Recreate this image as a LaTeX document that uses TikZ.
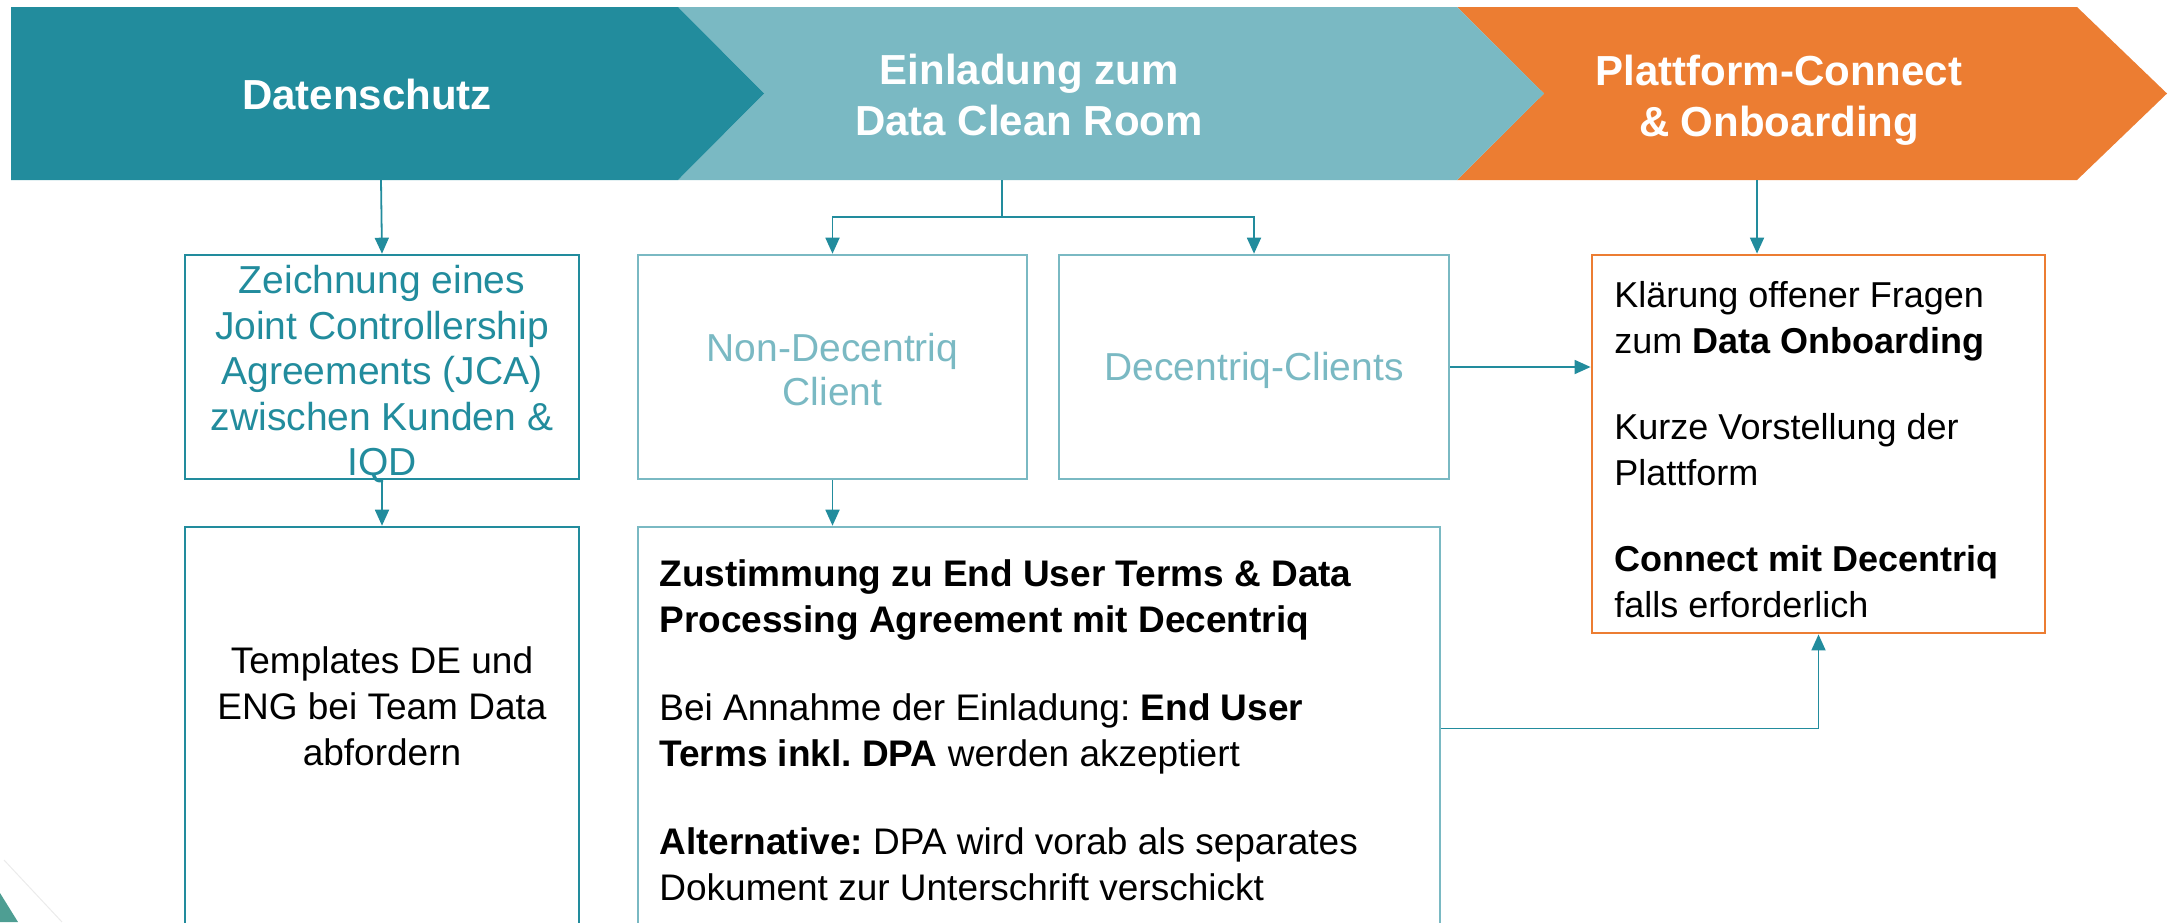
\documentclass[tikz,border=0pt]{standalone}
\usepackage{fontspec}
\setmainfont{Liberation Sans}
\usetikzlibrary{arrows.meta}
\definecolor{dteal}{HTML}{228C9D}
\definecolor{lteal}{HTML}{7AB9C3}
\definecolor{orng}{HTML}{EC7D32}
\definecolor{cornerteal}{HTML}{4E9E93}
\frenchspacing
\tikzset{
  hdr/.style={text=white, font=\fontsize{21pt}{25.5pt}\selectfont\bfseries, align=center, inner sep=0pt},
  boxlight/.style={draw=lteal, line width=1.3pt, inner sep=0pt},
  boxorange/.style={draw=orng, line width=1.4pt, inner sep=0pt},
  conn/.style={draw=dteal, line width=0.9pt},
  arr/.style={conn, -{Triangle[length=8pt,width=7pt]}},
  txt/.style={inner sep=0pt}
}
\begin{document}
\begin{tikzpicture}[x=0.5pt,y=-0.5pt]
\path[use as bounding box] (0,0) rectangle (2171,922);
\clip (0,0) rectangle (2171,922);

% banner chevrons
\fill[orng] (1457,7) -- (2077,7) -- (2167,93.5) -- (2077,180) -- (1457,180) -- (1544,93.5) -- cycle;
\fill[lteal] (678,7) -- (1457,7) -- (1544,93.5) -- (1457,180) -- (678,180) -- (764,93.5) -- cycle;
\fill[dteal] (11,7) -- (678,7) -- (764,93.5) -- (678,180) -- (11,180) -- cycle;

\node[hdr] (h1) at (367,94) {Datenschutz};
\node[hdr] (h2) at (1029,94.5) {Einladung zum\\Data Clean Room};
\node[hdr] (h3) at (1779,100) {Plattform-Connect\\\& Onboarding};

\coordinate (c1b) at (381,180);
\coordinate (c2b) at (1002,180);
\coordinate (c3b) at (1757,180);
\coordinate (split) at (1002,217);

% boxes
\node[draw=dteal, line width=1.3pt, inner sep=0pt, minimum width=197pt, minimum height=112pt] (A) at (382,367) {};
\node[draw=dteal, line width=1.3pt, inner sep=0pt, minimum width=197pt, minimum height=201.5pt] (B) at (382,728.5) {};
\node[boxlight, minimum width=194.5pt, minimum height=112pt] (C) at (832.5,367) {};
\node[boxlight, minimum width=195pt, minimum height=112pt] (D) at (1254,367) {};
\node[boxlight, minimum width=401pt, minimum height=201.5pt] (E) at (1039,728.5) {};
\node[boxorange, minimum width=226.5pt, minimum height=189pt] (F) at (1818.5,444) {};

% texts
\node[txt, text=dteal, align=center, font=\fontsize{19.5pt}{22.75pt}\selectfont] (tA) at (382,374.5)
  {Zeichnung eines\\Joint Controllership\\Agreements (JCA)\\zwischen Kunden \&\\IQD};
\node[txt, align=center, font=\fontsize{18.5pt}{23pt}\selectfont] (tB) at (382,706)
  {Templates DE und\\ENG bei Team Data\\abfordern};
\node[txt, text=lteal, align=center, font=\fontsize{19.5pt}{22pt}\selectfont] (tC) at (832.5,370)
  {Non-Decentriq\\Client};
\node[txt, text=lteal, align=center, font=\fontsize{19.5pt}{22pt}\selectfont] (tD) at (1254,370)
  {Decentriq-Clients};
\node[txt, anchor=west, align=left, font=\fontsize{18.5pt}{23pt}\selectfont] (tE) at (659,730)
  {\textbf{Zustimmung zu End User Terms \& Data}\\
   \textbf{Processing Agreement mit Decentriq}\\[21pt]
   Bei Annahme der Einladung: \textbf{End User}\\
   \textbf{Terms inkl. DPA} werden akzeptiert\\[21pt]
   \textbf{Alternative:} DPA wird vorab als separates\\
   Dokument zur Unterschrift verschickt};
\node[txt, anchor=west, align=left, font=\fontsize{18pt}{23pt}\selectfont] (tF) at (1614,450)
  {Klärung offener Fragen\\
   zum \textbf{Data Onboarding}\\[20pt]
   Kurze Vorstellung der\\
   Plattform\\[20pt]
   \textbf{Connect mit Decentriq}\\
   falls erforderlich};

% connectors
\draw[arr] (c1b) -- (A.north);
\draw[arr] (A.south) -- (B.north);
\draw[conn] (c2b) -- (split);
\draw[arr] (split) -| (C.north);
\draw[arr] (split) -| (D.north);
\draw[arr] (C.south) -- (C.south |- E.north);
\draw[arr] (c3b) -- (c3b |- F.north);
\draw[arr] (D.east) -- (D.east -| F.west);
\draw[arr] (E.east) -| (F.south);

% corner decoration
\fill[cornerteal] (0,893) -- (18,922) -- (0,922) -- cycle;
\draw[black!8, line width=0.5pt] (4,860) -- (62,922);
\end{tikzpicture}
\end{document}
